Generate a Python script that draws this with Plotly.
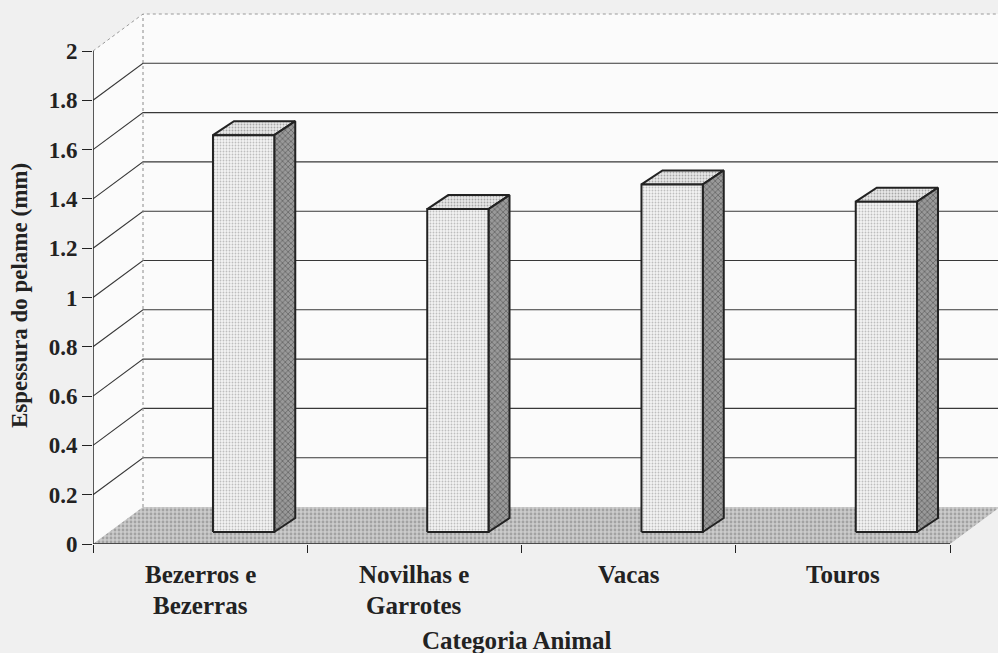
import plotly.graph_objects as go

# ---- data -------------------------------------------------------------
category_lines = [["Bezerros e", "Bezerras"], ["Novilhas e", "Garrotes"], ["Vacas"], ["Touros"]]
values = [1.61, 1.31, 1.41, 1.34]
y_tick_values = [0, 0.2, 0.4, 0.6, 0.8, 1.0, 1.2, 1.4, 1.6, 1.8, 2.0]
y_tick_labels = ["0", "0.2", "0.4", "0.6", "0.8", "1", "1.2", "1.4", "1.6", "1.8", "2"]
y_title = "Espessura do pelame (mm)"
x_title = "Categoria Animal"

# ---- geometry of the pseudo-3D frame ----------------------------------
W, H = 998, 653
ML, MB = 93, 109
PX_X = 214.25          # pixels per category slot
PX_Y = 246.5           # pixels per value unit
x_max = (W - ML) / PX_X
y_max = (H - MB) / PX_Y
n_cat = len(values)
y_top = y_tick_values[-1]

DEPTH_X = 50 / PX_X    # oblique offset of the back wall
DEPTH_Y = 37 / PX_Y
BAR_BASE = 12 / PX_Y   # bars stand a little behind the front edge
BAR_DX = 21 / PX_X     # bar depth
BAR_DY = 14 / PX_Y
BAR_LEFT = 0.56        # front-face left edge within the slot
BAR_W = 0.286

INK = "#222222"
FONT = "Liberation Serif"

fig = go.Figure()


def poly(xs, ys, **kw):
    fig.add_trace(go.Scatter(x=xs + xs[:1], y=ys + ys[:1], mode="lines", fill="toself",
                             hoverinfo="skip", showlegend=False, **kw))


def line(xs, ys, color=INK, width=1, dash="solid"):
    fig.add_trace(go.Scatter(x=xs, y=ys, mode="lines", hoverinfo="skip", showlegend=False,
                             line=dict(color=color, width=width, dash=dash)))


# walls
poly([DEPTH_X, x_max + 1, x_max + 1, DEPTH_X], [DEPTH_Y, DEPTH_Y, y_top + DEPTH_Y, y_top + DEPTH_Y],
     fillcolor="#fbfbfb", line=dict(width=0))
poly([0, DEPTH_X, DEPTH_X, 0], [0, DEPTH_Y, y_top + DEPTH_Y, y_top],
     fillcolor="#fbfbfb", line=dict(width=0))

# gridlines along left and back walls
for v in y_tick_values[1:-1]:
    line([0, DEPTH_X, x_max + 1], [v, v + DEPTH_Y, v + DEPTH_Y], color="#383838", width=1.1)
line([0, DEPTH_X, x_max + 1], [y_top, y_top + DEPTH_Y, y_top + DEPTH_Y], color="#9a9a9a", width=1, dash="dot")
line([DEPTH_X, DEPTH_X], [DEPTH_Y, y_top + DEPTH_Y], color="#8a8a8a", width=1, dash="dot")

# floor
poly([0, n_cat, n_cat + DEPTH_X, DEPTH_X], [0, 0, DEPTH_Y, DEPTH_Y],
     fillcolor="#c4c4c4", line=dict(width=0),
     fillpattern=dict(shape=".", bgcolor="#cbcbcb", fgcolor="#7a7a7a", size=4, solidity=0.4))

# bars: top, side, front
for i, v in enumerate(values):
    xl = i + BAR_LEFT
    xr = xl + BAR_W
    b = BAR_BASE
    poly([xl, xr, xr + BAR_DX, xl + BAR_DX], [b + v, b + v, b + v + BAR_DY, b + v + BAR_DY],
         fillcolor="#dcdcdc", line=dict(color=INK, width=2),
         fillpattern=dict(shape=".", bgcolor="#e8e8e8", fgcolor="#666666", size=3, solidity=0.3))
    poly([xr, xr + BAR_DX, xr + BAR_DX, xr], [b, b + BAR_DY, b + v + BAR_DY, b + v],
         fillcolor="#8c8c8c", line=dict(color=INK, width=2),
         fillpattern=dict(shape="x", bgcolor="#999999", fgcolor="#2e2e2e", size=4, solidity=0.35))
    poly([xl, xr, xr, xl], [b, b, b + v, b + v],
         fillcolor="#e4e4e4", line=dict(color=INK, width=2),
         fillpattern=dict(shape=".", bgcolor="#f3f3f3", fgcolor="#8a8a8a", size=3, solidity=0.3))

# front axes
line([0, 0], [0, y_top], width=1.5)
line([0, n_cat], [0, 0], width=1.5)

# category labels, one line at a time
for i, lines_ in enumerate(category_lines):
    for k, txt in enumerate(lines_):
        fig.add_annotation(x=i + 0.5, xref="x", y=-(30 + 31 * k) / (H - MB), yref="paper",
                           text=txt, showarrow=False, xanchor="center", yanchor="middle",
                           font=dict(family=FONT, size=25, color=INK, weight="bold"))

fig.add_annotation(x=(517 - ML) / (W - ML), xref="paper", y=-(640 - (H - MB)) / (H - MB), yref="paper",
                   text=x_title, showarrow=False, xanchor="center", yanchor="middle",
                   font=dict(family=FONT, size=25, color=INK, weight="bold"))
fig.add_annotation(x=(19 - ML) / (W - ML), xref="paper", y=(H - MB - 296) / (H - MB), yref="paper",
                   text=y_title, textangle=-90, showarrow=False, xanchor="center", yanchor="middle",
                   font=dict(family=FONT, size=23, color=INK, weight="bold"))

fig.update_layout(
    width=W, height=H,
    margin=dict(l=ML, r=0, t=0, b=MB),
    paper_bgcolor="#f0f0f0", plot_bgcolor="#f0f0f0",
    showlegend=False,
    xaxis=dict(range=[0, x_max], tickvals=list(range(n_cat + 1)), ticks="outside", ticklen=8,
               tickcolor=INK, tickwidth=1.2, showticklabels=False, showgrid=False,
               zeroline=False, showline=False, fixedrange=True),
    yaxis=dict(range=[0, y_max], tickvals=y_tick_values, ticktext=y_tick_labels, ticks="outside",
               ticklen=10, tickcolor=INK, tickwidth=1.2, showgrid=False, zeroline=False,
               showline=False, fixedrange=True,
               tickfont=dict(family=FONT, size=23, color=INK, weight="bold")),
)

fig.write_html("out.html")
